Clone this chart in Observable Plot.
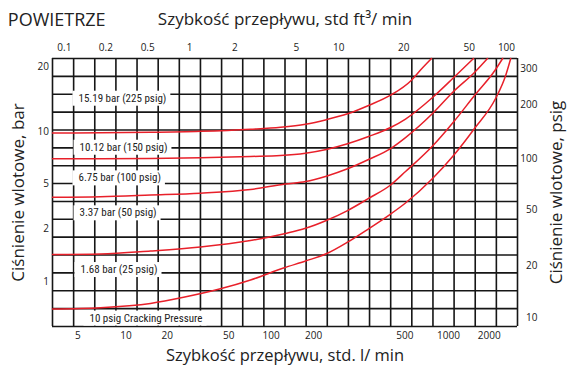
<!DOCTYPE html>
<html><head><meta charset="utf-8">
<script src="https://cdn.jsdelivr.net/npm/d3@7"></script>
<script src="https://cdn.jsdelivr.net/npm/@observablehq/plot@0.6"></script>
<style>
body{margin:0;background:#fff;}
svg{display:block;}
</style></head><body><div id="chart"></div>
<script>
// ---- axis ticks ----
const bottomTicks = [5, 10, 20, 50, 100, 200, 500, 1000, 2000];          // std. l/min
const topTickLabels = [0.1, 0.2, 0.5, 1, 2, 5, 10, 20, 50, 100];          // std ft3/min
const topTickAtLpm = [4.1, 7.49, 14.4, 27.9, 55.3, 151, 257, 494, 1425, 2676]; // where each ft3/min label sits on the l/min scale
const leftTicks = [1, 2, 5, 10, 20];                                       // bar
const rightTickLabels = [10, 20, 50, 100, 200, 300];                       // psig
const rightTickAtBar = [0.635, 1.242, 2.94, 6.96, 13.38, 19.66];           // where each psig label sits on the bar scale

// ---- printed log-paper calibration (values at the sheet's labelled marks) ----
const xDomain = [3.45, 5, 10, 20, 50, 100, 200, 500, 1000, 2000, 3222];
const yDomain = [0.565, 1, 2, 5, 10, 20, 21.9];

// ---- curves: flow (l/min) vs inlet pressure (bar) ----
const flowA = [3.45, 6.93, 15.1, 32.8, 71.4, 116.4, 175, 227, 281, 347, 433, 555, 641, 763];
const barA  = [9.79, 9.83, 9.89, 10.02, 10.25, 10.47, 10.82, 11.36, 12.10, 13.24, 14.79, 17.39, 19.41, 21.9];
const flowB = [3.45, 6.93, 15.1, 32.8, 71.4, 116.4, 175, 227, 281, 347, 433, 505, 776, 1089, 1531];
const barB  = [6.97, 6.97, 6.99, 7.06, 7.18, 7.27, 7.50, 7.88, 8.50, 9.36, 10.44, 11.44, 14.43, 17.84, 21.9];
const flowC = [3.45, 6.93, 15.1, 32.8, 71.4, 126.3, 175, 227, 281, 347, 433, 505, 776, 1089, 1557, 1943];
const barC  = [3.81, 3.85, 3.98, 4.13, 4.45, 4.98, 5.15, 5.53, 6.10, 6.90, 7.98, 9.23, 12.14, 15.39, 18.89, 21.9];
const flowD = [3.45, 6.93, 15.1, 32.8, 71.4, 126.3, 175, 227, 281, 347, 433, 505, 776, 1089, 1557, 2227, 2508];
const barD  = [1.433, 1.442, 1.499, 1.579, 1.718, 1.882, 2.02, 2.37, 2.90, 3.71, 4.88, 5.88, 8.25, 11.08, 14.74, 19.51, 21.9];
const flowE = [3.45, 6.93, 15.1, 25.5, 44.2, 71.4, 122.2, 175, 227, 281, 347, 433, 505, 776, 1089, 1557, 2227, 2640, 2874];
const barE  = [0.708, 0.720, 0.761, 0.823, 0.918, 1.029, 1.202, 1.317, 1.446, 1.681, 2.00, 2.70, 3.38, 5.36, 7.27, 10.33, 14.27, 18.29, 21.9];

// ---- annotations ----
const labelTexts = ["15.19 bar (225 psig)", "10.12 bar (150 psig)", "6.75 bar (100 psig)", "3.37 bar (50 psig)", "1.68 bar (25 psig)", "10 psig Cracking Pressure"];
const labelFlow = [5.04, 5.12, 5.04, 5.12, 5.19, 5.91];
const labelBar  = [14.32, 8.12, 5.41, 2.77, 1.179, 0.630];

// ---- build tables ----
const series = [["A", flowA, barA], ["B", flowB, barB], ["C", flowC, barC], ["D", flowD, barD], ["E", flowE, barE]];
const points = series.flatMap(([name, fl, br]) => fl.map((f, i) => ({curve: name, flow: f, bar: br[i]})));
const labels = labelTexts.map((t, i) => ({text: t, flow: labelFlow[i], bar: labelBar[i]}));
const topTicks = topTickAtLpm.map((v, i) => ({at: v, label: String(topTickLabels[i])}));
const rightTicks = rightTickAtBar.map((v, i) => ({at: v, label: String(rightTickLabels[i])}));

const W = 569, H = 371;
const mL = 52, mR = 52, mT = 58, mB = 45;
const xRange = [mL, 77.4, 125.4, 166.8, 228.2, 270.7, 313.2, 404.4, 448, 488.7, W - mR];
const yRange = [H - mB, 281.7, 228.3, 183.3, 131, 66.7, mT];

// uniform grid of the printed sheet (22 columns x 15 rows)
const xs = d3.scaleLog().domain(xDomain).range(xRange);
const ys = d3.scaleLog().domain(yDomain).range(yRange);
const gridX = d3.range(23).map(i => xs.invert(mL + i * (W - mR - mL) / 22));
const gridY = d3.range(16).map(j => ys.invert(mT + j * (H - mB - mT) / 15));

const sans = "'Open Sans', 'Noto Sans', sans-serif";
const narrow = "'Liberation Sans Narrow', 'Roboto Condensed', 'DejaVu Sans Condensed', Roboto, sans-serif";
const red = "#e8202a";
const ink = "#222";

const svg = Plot.plot({
  width: W, height: H,
  marginLeft: mL, marginRight: mR, marginTop: mT, marginBottom: mB,
  style: {fontFamily: sans, fontSize: "10px", color: ink, background: "#fff"},
  x: {type: "log", domain: xDomain, range: xRange, label: null, axis: null},
  y: {type: "log", domain: yDomain, range: yRange, label: null, axis: null},
  marks: [
    Plot.ruleX(gridX, {x: d => d, stroke: "#161616", strokeWidth: 1.6}),
    Plot.ruleY(gridY, {y: d => d, stroke: "#161616", strokeWidth: 1.6}),
    Plot.text(labels, {x: "flow", y: "bar", text: "text", textAnchor: "start", lineAnchor: "middle", fontFamily: narrow, fontSize: 11, fill: ink}),
    Plot.line(points, {x: "flow", y: "bar", z: "curve", stroke: red, strokeWidth: 1.5, curve: "monotone-x"}),
    // tick labels
    Plot.text(bottomTicks, {x: d => d, text: d => String(d), frameAnchor: "bottom", lineAnchor: "middle", dy: 9.5, fontSize: 10, fill: ink}),
    Plot.text(topTicks, {x: "at", text: "label", frameAnchor: "top", lineAnchor: "middle", dy: -11, fontSize: 10, fill: ink}),
    Plot.text(leftTicks, {y: d => d, text: d => String(d), frameAnchor: "left", textAnchor: "end", lineAnchor: "middle", dx: -3.5, fontSize: 10, fill: ink}),
    Plot.text(rightTicks, {y: "at", text: "label", frameAnchor: "right", textAnchor: "end", lineAnchor: "middle", dx: 20, fontSize: 10, fill: ink}),
    // titles
    Plot.text(["POWIETRZE"], {text: d => d, frameAnchor: "top-left", dx: -44.7, dy: -38, textAnchor: "start", lineAnchor: "middle", fontSize: 18, fill: ink}),
    Plot.text(["Szybkość przepływu, std ft³/ min"], {text: d => d, frameAnchor: "top", dy: -39, textAnchor: "middle", lineAnchor: "middle", fontSize: 17, fill: ink}),
    Plot.text(["Szybkość przepływu, std. l/ min"], {text: d => d, frameAnchor: "bottom", dy: 29, textAnchor: "middle", lineAnchor: "middle", fontSize: 16.5, fill: ink}),
    Plot.text(["Ciśnienie wlotowe, bar"], {text: d => d, frameAnchor: "left", dx: -34, rotate: -90, textAnchor: "middle", lineAnchor: "middle", fontSize: 17, fill: ink}),
    Plot.text(["Ciśnienie wlotowe, psig"], {text: d => d, frameAnchor: "right", dx: 39, rotate: -90, textAnchor: "middle", lineAnchor: "middle", fontSize: 17, fill: ink})
  ]
});
document.getElementById("chart").append(svg);

// white boxes behind the in-chart annotations (sized from the rendered text)
const labelSet = new Set(labelTexts);
svg.querySelectorAll("text").forEach(t => {
  if (!labelSet.has(t.textContent)) return;
  const b = t.getBBox();
  const r = document.createElementNS("http://www.w3.org/2000/svg", "rect");
  r.setAttribute("x", b.x - 6);
  r.setAttribute("y", b.y - 1);
  r.setAttribute("width", b.width + 10);
  r.setAttribute("height", b.height + 2);
  r.setAttribute("fill", "#fff");
  if (t.getAttribute("transform")) r.setAttribute("transform", t.getAttribute("transform"));
  t.parentNode.insertBefore(r, t);
});
</script>
</body></html>
